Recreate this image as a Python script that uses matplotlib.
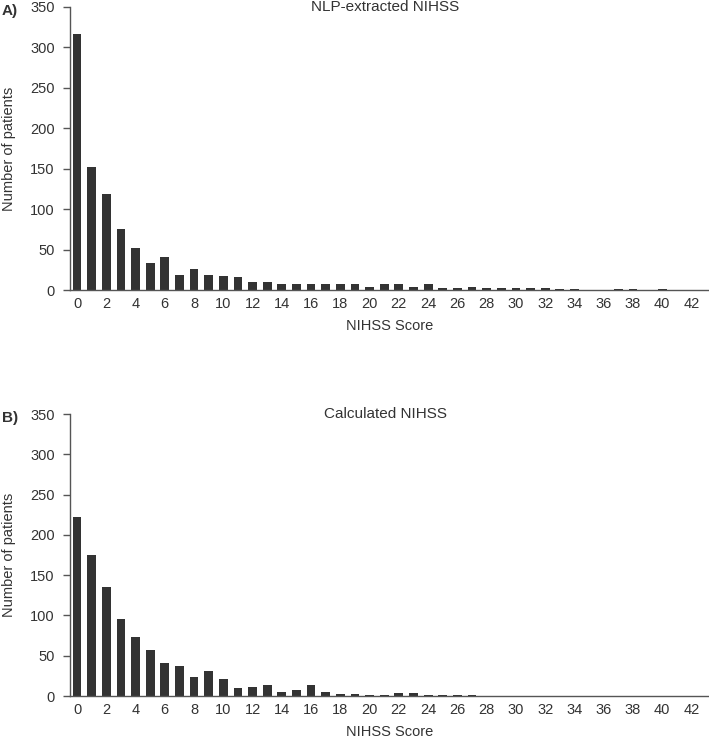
import numpy as np
import matplotlib.pyplot as plt
from matplotlib.transforms import blended_transform_factory

plt.rcParams['font.family'] = ['Liberation Sans', 'DejaVu Sans']

scores = np.arange(0, 43)
nlp_counts = [316, 152, 119, 75, 52, 33, 41, 18, 26, 18, 17, 16, 10, 10, 7, 7, 7, 7, 7, 7,
              4, 7, 7, 4, 7, 2, 2, 4, 2, 2, 2, 2, 2, 1, 1, 0, 0, 1, 1, 0, 1, 0, 0]
calc_counts = [222, 175, 135, 96, 73, 57, 41, 37, 24, 31, 21, 10, 11, 14, 5, 8, 14, 5, 3, 2,
               1, 1, 4, 4, 1, 1, 1, 1, 0, 0, 0, 0, 0, 0, 0, 0, 0, 0, 0, 0, 0, 0, 0]
titles = ["NLP-extracted NIHSS", "Calculated NIHSS"]
panels = ["A)", "B)"]

W, H = 709, 739
fig = plt.figure(figsize=(W / 100, H / 100), dpi=100)
txt = '#333333'

# axes boxes in pixels: (left, top, bottom)
boxes = [(70, 7, 290), (70, 414, 696)]
for (l, t, b), counts, title, panel in zip(boxes, [nlp_counts, calc_counts], titles, panels):
    ax = fig.add_axes([l / W, 1 - b / H, 1 - l / W, (b - t) / H])
    ax.bar(scores, counts, width=0.6, color='#333333')
    ax.set_xlim(-0.48, 43.2)
    ax.set_ylim(0, 350)
    ax.set_yticks(range(0, 351, 50))
    ax.set_xticks(range(0, 43, 2))
    for s in ['top', 'right']:
        ax.spines[s].set_visible(False)
    for s in ['left', 'bottom']:
        ax.spines[s].set_color('#555555')
        ax.spines[s].set_linewidth(1.0)
    ax.tick_params(axis='y', colors='#555555', labelcolor=txt, labelsize=10.5, length=5, width=1, pad=6)
    ax.tick_params(axis='x', length=0, labelcolor=txt, labelsize=10.5, pad=5)
    ax.set_ylabel("Number of patients", color=txt, fontsize=10.5, labelpad=10)
    ax.set_xlabel("NIHSS Score", color=txt, fontsize=10.5, labelpad=6)
    tr = blended_transform_factory(ax.transAxes, ax.transData)
    ax.text((385 - l) / (W - l), 350, title, ha='center', va='center', color=txt,
            fontsize=11, transform=tr)
    fig.text(2 / W, 1 - (t + 4) / H, panel, ha='left', va='center', fontsize=11,
             fontweight='bold', color=txt)

fig.savefig("out.png", dpi=100)
